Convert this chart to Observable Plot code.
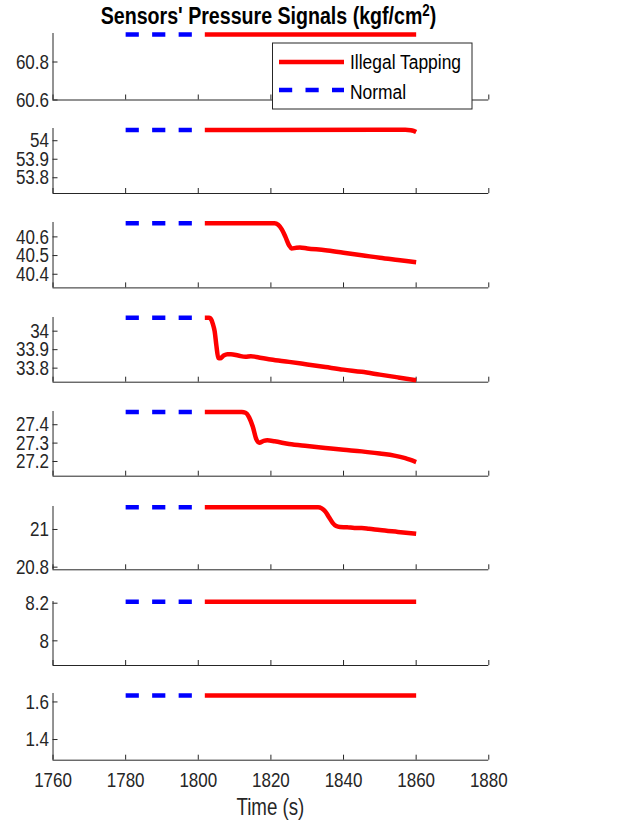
<!DOCTYPE html>
<html><head><meta charset="utf-8">
<script src="https://cdn.jsdelivr.net/npm/d3@7"></script>
<script src="https://cdn.jsdelivr.net/npm/@observablehq/plot@0.6"></script>
<style>
body{margin:0;background:#fff;}
#fig{position:relative;width:623px;height:823px;overflow:hidden;background:#fff;}
#fig svg{position:absolute;left:0;overflow:visible;}
</style></head><body><div id="fig"></div>
<script>
// ---------- data ----------
const xTicks = [1760, 1780, 1800, 1820, 1840, 1860, 1880];
const normalTime = [1780, 1801.8];
const normalLevel = [60.945, 54.058, 40.673, 34.072, 27.469, 21.118, 8.208, 1.634];

const tapTime1 = [1801.8, 1860];
const tapValue1 = [60.945, 60.945];
const tapTime2 = [1801.8, 1850, 1857, 1858.5, 1859.3, 1860];
const tapValue2 = [54.058, 54.059, 54.059, 54.057, 54.053, 54.047];
const tapTime3 = [1801.8, 1821, 1822, 1823, 1824, 1825, 1825.7, 1827, 1828, 1830, 1835, 1840, 1845, 1850, 1855, 1860];
const tapValue3 = [40.673, 40.673, 40.665, 40.64, 40.60, 40.555, 40.538, 40.542, 40.543, 40.538, 40.529, 40.515, 40.502, 40.488, 40.476, 40.464];
const tapTime4 = [1801.8, 1803, 1803.5, 1804, 1804.5, 1805, 1805.5, 1806, 1807, 1808, 1809, 1811, 1813, 1814.5, 1816, 1820, 1825, 1830, 1835, 1840, 1845, 1850, 1855, 1860];
const tapValue4 = [34.072, 34.072, 34.065, 34.04, 34.0, 33.92, 33.855, 33.853, 33.868, 33.875, 33.875, 33.868, 33.861, 33.865, 33.86, 33.847, 33.834, 33.82, 33.806, 33.792, 33.78, 33.765, 33.75, 33.735];
const tapTime5 = [1801.8, 1812, 1813, 1814, 1815, 1816, 1816.8, 1818, 1819, 1821, 1825, 1830, 1835, 1840, 1845, 1850, 1854, 1857, 1860];
const tapValue5 = [27.469, 27.469, 27.465, 27.44, 27.39, 27.32, 27.302, 27.312, 27.315, 27.31, 27.295, 27.284, 27.274, 27.264, 27.255, 27.243, 27.232, 27.218, 27.197];
const tapTime6 = [1801.8, 1833, 1834, 1835, 1836, 1837, 1838, 1839, 1841, 1843, 1845, 1847, 1850, 1855, 1860];
const tapValue6 = [21.118, 21.118, 21.112, 21.095, 21.065, 21.035, 21.018, 21.013, 21.012, 21.008, 21.008, 21.004, 20.997, 20.987, 20.977];
const tapTime7 = [1801.8, 1860];
const tapValue7 = [8.208, 8.208];
const tapTime8 = [1801.8, 1860];
const tapValue8 = [1.634, 1.634];

const yMin = [60.6, 53.715, 40.327, 33.724, 27.12, 20.786, 7.869, 1.29];
const yMax = [60.95, 54.066, 40.677, 34.074, 27.472, 21.122, 8.209, 1.645];
const yTicks = [
  [60.6, 60.8],
  [53.8, 53.9, 54],
  [40.4, 40.5, 40.6],
  [33.8, 33.9, 34],
  [27.2, 27.3, 27.4],
  [20.8, 21],
  [8, 8.2],
  [1.4, 1.6]
];
const titleText = "Sensors' Pressure Signals (kgf/cm";
const legendLabels = ["Illegal Tapping", "Normal"];
const xLabel = "Time (s)";

// ---------- layout ----------
const panelTop = [33, 127.7, 222.3, 317.3, 411, 506, 601, 693.3];
const panelBottom = [99.5, 192.7, 287.7, 382, 475.7, 569.3, 665, 760];
const tapTimes = [tapTime1, tapTime2, tapTime3, tapTime4, tapTime5, tapTime6, tapTime7, tapTime8];
const tapValues = [tapValue1, tapValue2, tapValue3, tapValue4, tapValue5, tapValue6, tapValue7, tapValue8];
const FONT = "'Liberation Sans', Arial, Helvetica, sans-serif";
const SX = 0.81;
const RED = "#ff0000", BLUE = "#0000ff", AX = "#262626";
const DASH = "13.2,13.3";

function condense(svg, k) {
  svg.querySelectorAll("text").forEach(t => {
    const x = t.getAttribute("x");
    let tr = t.getAttribute("transform") || "";
    if (x != null && x !== "") { tr += ` translate(${x},0)`; t.removeAttribute("x"); }
    tr += ` scale(${k},1)`;
    t.setAttribute("transform", tr.trim());
  });
}

const fig = document.getElementById("fig");
for (let i = 0; i < 8; i++) {
  const pad = 8, padB = i === 7 ? 40 : 8;
  const h = panelBottom[i] - panelTop[i];
  const tap = tapTimes[i].map((t, j) => ({t, v: tapValues[i][j]}));
  const normal = normalTime.map(t => ({t, v: normalLevel[i]}));
  const chart = Plot.plot({
    width: 623, height: h + pad + padB,
    marginTop: pad, marginBottom: padB, marginLeft: 52.5, marginRight: 623 - 488.3,
    x: {domain: [1760, 1880], label: null},
    y: {domain: [yMin[i], yMax[i]], label: null},
    style: {fontFamily: FONT, fontSize: "21px", color: AX, background: "transparent", overflow: "visible"},
    marks: [
      Plot.ruleX([1760], {stroke: AX, strokeWidth: 1}),
      Plot.ruleY([yMin[i]], {stroke: AX, strokeWidth: 1}),
      Plot.axisY({ticks: yTicks[i], tickSize: -5, tickPadding: 9, label: null, tickFormat: d => String(d)}),
      Plot.axisX({ticks: xTicks, tickSize: -5, tickPadding: 17.3, label: null,
        tickFormat: i === 7 ? (d => String(d)) : (() => "")}),
      Plot.line(normal, {x: "t", y: "v", stroke: BLUE, strokeWidth: 4.5, strokeDasharray: DASH, strokeLinecap: "butt"}),
      Plot.line(tap, {x: "t", y: "v", stroke: RED, strokeWidth: 4.5, curve: "monotone-x", strokeLinecap: "butt", strokeLinejoin: "round"})
    ]
  });
  chart.style.position = "absolute";
  chart.style.top = (panelTop[i] - pad) + "px";
  chart.style.left = "0px";
  condense(chart, SX);
  fig.append(chart);
}

// ---------- overlay: title, legend, x label ----------
const ov = d3.create("svg").attr("width", 623).attr("height", 823)
  .style("position", "absolute").style("top", "0px").style("left", "0px")
  .attr("font-family", FONT);

const title = ov.append("text").attr("text-anchor", "middle").attr("font-weight", "bold")
  .attr("font-size", 24.2).attr("fill", "#000")
  .attr("transform", `translate(268.5,24) scale(${SX},1)`);
title.append("tspan").text(titleText);
title.append("tspan").attr("font-size", 16.5).attr("dy", -8).text("2");
title.append("tspan").attr("dy", 8).text(")");

const lg = ov.append("g");
lg.append("rect").attr("x", 272.5).attr("y", 43).attr("width", 199.5).attr("height", 66)
  .attr("fill", "#fff").attr("stroke", AX).attr("stroke-width", 1);
lg.append("line").attr("x1", 279).attr("x2", 344).attr("y1", 62).attr("y2", 62)
  .attr("stroke", RED).attr("stroke-width", 4.5);
lg.append("line").attr("x1", 279).attr("x2", 344).attr("y1", 90).attr("y2", 90)
  .attr("stroke", BLUE).attr("stroke-width", 4.5).attr("stroke-dasharray", DASH);
lg.append("text").attr("font-size", 21).attr("fill", "#000")
  .attr("transform", `translate(350,68.5) scale(0.83,1)`).text(legendLabels[0]);
lg.append("text").attr("font-size", 21).attr("fill", "#000")
  .attr("transform", `translate(350,98.5) scale(0.83,1)`).text(legendLabels[1]);

ov.append("text").attr("text-anchor", "middle").attr("font-size", 23.1).attr("fill", AX)
  .attr("transform", `translate(270.4,814.5) scale(${SX},1)`).text(xLabel);

fig.append(ov.node());
</script>
</body></html>
